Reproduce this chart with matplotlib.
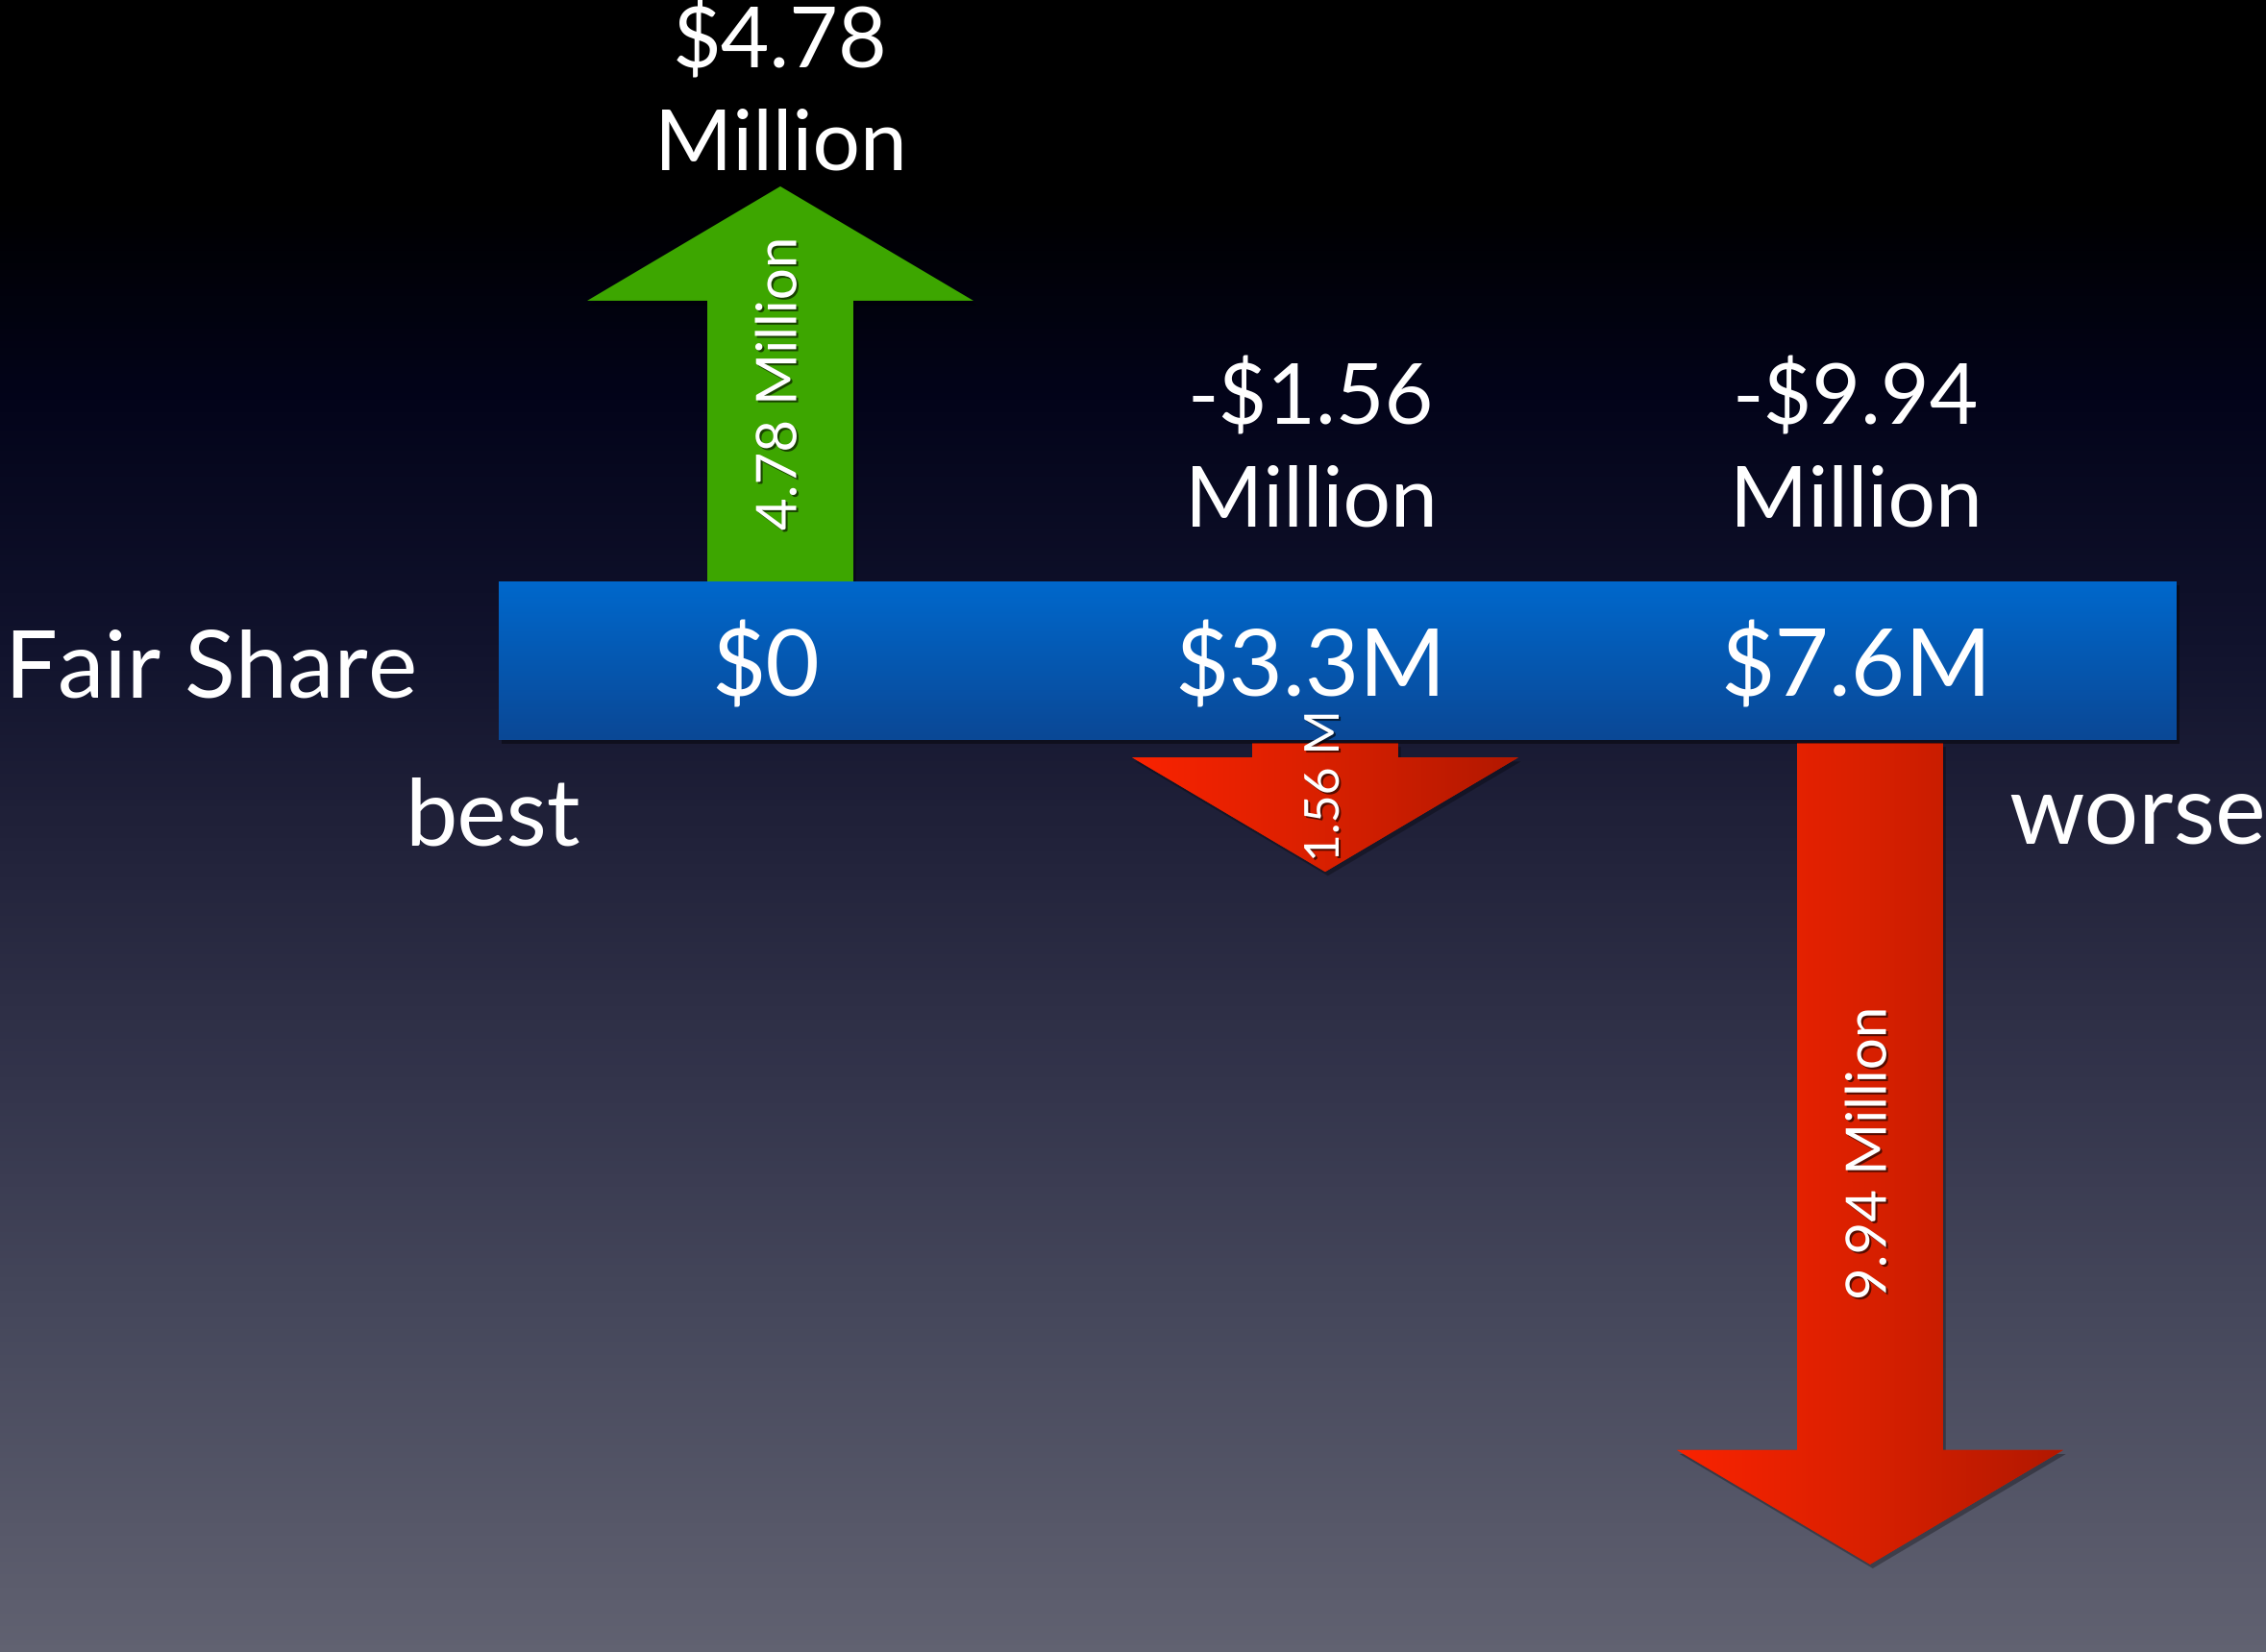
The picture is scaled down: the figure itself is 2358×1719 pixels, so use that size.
import matplotlib.pyplot as plt
import matplotlib.patheffects as pe
import numpy as np
from matplotlib.colors import LinearSegmentedColormap
from matplotlib.patches import Polygon, Rectangle


# Данные
fair_share = ['$0', '$3.3M', '$7.6M']
changes = [4.78, -1.56, -9.94]  # млн $
change_top = ['$4.78', '-$1.56', '-$9.94']
change_unit = 'Million'
arrow_labels = ['4.78 Million', '1.56 M', '9.94 Million']
row_label = 'Fair Share'
end_labels = ['best', 'worse']

W, H = 2358, 1719
fig = plt.figure(figsize=(W / 100, H / 100), dpi=100)
ax = fig.add_axes([0, 0, 1, 1])

# масштабы: x - номер колонки, y - миллионы (0 = верх полосы)
col_px = 567   # пикселей между колонками
x0_px = 812    # пиксель первой колонки
k = 86         # пикселей на миллион
bar_top_px = 605


def py(px):
    # пиксель сверху -> y в миллионах
    return (bar_top_px - px) / k


def px_x(px):
    return (px - x0_px) / col_px


xmin, xmax = px_x(0), px_x(W)
ymin, ymax = py(H), py(0)
bar_h = 165 / k
lab_dx = -15 / col_px  # подписи чуть левее стрелок

font = 'Lato'

# фон с градиентом
bg_cmap = LinearSegmentedColormap.from_list('bg', [
    (0.0, '#000000'), (0.12, '#000000'), (0.24, '#03041a'), (0.40, '#12142e'),
    (0.49, '#1f2038'), (0.66, '#34354c'), (0.79, '#45475b'), (1.0, '#616271')])
ax.imshow(np.linspace(0, 1, 256).reshape(-1, 1), cmap=bg_cmap, aspect='auto',
          extent=[xmin, xmax, ymin, ymax], zorder=0)

# синяя полоса
bar = Rectangle((px_x(519), -bar_h), px_x(2265) - px_x(519), bar_h, lw=0,
                facecolor='#0a56b0', zorder=4,
                path_effects=[pe.SimplePatchShadow(offset=(2, -3), shadow_rgbFace='black', alpha=0.4), pe.Normal()])
ax.add_patch(bar)
blue_cmap = LinearSegmentedColormap.from_list('blue', ['#0068cc', '#0a4896'])
im = ax.imshow(np.linspace(0, 1, 64).reshape(-1, 1), cmap=blue_cmap, aspect='auto',
               extent=[px_x(519), px_x(2265), -bar_h, 0], zorder=5)
im.set_clip_path(bar)

# стрелки
sw = 76 / col_px   # полуширина стержня
hw = 201 / col_px  # полуширина наконечника
hl = 119 / k       # длина наконечника
gap = 3 / k
red_cmap = LinearSegmentedColormap.from_list('red', ['#fa2300', '#d82000', '#b21800'])
shadow = [pe.SimplePatchShadow(offset=(2, -3), shadow_rgbFace='black', alpha=0.3), pe.Normal()]
txt_shadow = [pe.SimplePatchShadow(offset=(1.5, -1.5), shadow_rgbFace='black', alpha=0.6), pe.Normal()]

for i, v in enumerate(changes):
    d = 1 if v > 0 else -1
    y0 = 0 if v > 0 else -bar_h - gap
    tip = y0 + v
    base = tip - d * hl
    pts = [(i - sw, y0), (i - sw, base), (i - hw, base), (i, tip),
           (i + hw, base), (i + sw, base), (i + sw, y0)]
    poly = Polygon(pts, closed=True, lw=0, zorder=2, path_effects=shadow)
    if v > 0:
        poly.set_facecolor('#3da600')
        ax.add_patch(poly)
    else:
        poly.set_facecolor('#d82000')
        ax.add_patch(poly)
        im = ax.imshow(np.linspace(0, 1, 256).reshape(1, -1), cmap=red_cmap, aspect='auto',
                       extent=[i - hw, i + hw, tip, y0], zorder=3)
        im.set_clip_path(poly)

    # подпись вдоль стрелки
    if abs(v) * k > 200:
        ax.text(i, y0 + v / 2, arrow_labels[i], rotation=90, ha='center', va='center',
                fontsize=42, color='white', family=font, zorder=6, path_effects=txt_shadow)
    else:
        # короткая стрелка: подпись от острия вверх, чуть мельче
        ax.text(i, tip + 10 / k, arrow_labels[i], rotation=90, rotation_mode='anchor',
                ha='left', va='center', fontsize=36, color='white', family=font,
                zorder=6, path_effects=txt_shadow)

    # подписи сверху
    if v > 0:
        lab, dx = tip + 17 / k, 0
    else:
        lab, dx = 57 / k, lab_dx
    ax.text(i + dx, lab, change_unit, ha='center', va='baseline', fontsize=63,
            color='white', family=font, zorder=6)
    ax.text(i + dx, lab + 106 / k, change_top[i], ha='center', va='baseline', fontsize=63,
            color='white', family=font, zorder=6)

    # значения в полосе
    ax.text(i + lab_dx, py(725), fair_share[i], ha='center', va='baseline', fontsize=70,
            color='white', family=font, zorder=6)

ax.text(px_x(5), py(725), row_label, ha='left', va='baseline', fontsize=70,
        color='white', family=font, zorder=6)
ax.text(px_x(421), py(880), end_labels[0], ha='left', va='baseline', fontsize=70,
        color='white', family=font, zorder=6)
ax.text(px_x(2090), py(878), end_labels[1], ha='left', va='baseline', fontsize=72,
        color='white', family=font, zorder=6)

ax.set_xlim(xmin, xmax)
ax.set_ylim(ymin, ymax)
ax.axis('off')

plt.savefig('out.png', dpi=100)
